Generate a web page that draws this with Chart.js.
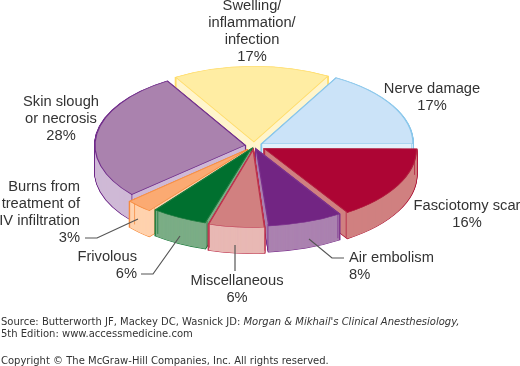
<!DOCTYPE html>
<html><head><meta charset="utf-8">
<style>html,body{margin:0;padding:0;background:#fff}canvas{display:block}</style>
<script src="https://cdn.jsdelivr.net/npm/chart.js@4/dist/chart.umd.js"></script>
</head><body><canvas id="c" width="520" height="366"></canvas>
<script>
const categories = ['Fasciotomy scar','Air embolism','Miscellaneous','Frivolous','Burns from treatment of IV infiltration','Skin slough or necrosis','Swelling/inflammation/infection','Nerve damage'];
const percents = [16,8,6,6,3,28,17,17];
const topColors = ['#AD0534','#722583','#D18080','#00702F','#FBAA72','#AA82AE','#FFEDA3','#CBE3F8'];
const sideColors = ['#D08080','#AB82B0','#E8B8B4','#7BAD86','#FFD2AE','#CFB9D6','#FFF5CC','#E3F1FB'];
const edgeColors = ['#B11C3D','#7A2E8C','#BC2F4B','#1A7A3C','#F58A3C','#6F2B8A','#FFDC6A','#86C5EA'];
const explode = [12,7,8,7,9,9,8,9];
const paintOrder = [6,7,5,0,4,3,1,2];
const labelBlocks = [
  {lines:['Swelling/','inflammation/','infection','17%'],x:252,y:6,align:'center'},
  {lines:['Nerve damage','17%'],x:432,y:89,align:'center'},
  {lines:['Fasciotomy scar','16%'],x:467,y:206,align:'center'},
  {lines:['Air embolism','8%'],x:349,y:258,align:'left'},
  {lines:['Miscellaneous','6%'],x:237,y:281,align:'center'},
  {lines:['Frivolous','6%'],x:137,y:257,align:'right'},
  {lines:['Burns from','treatment of','IV infiltration','3%'],x:80,y:187,align:'right'},
  {lines:['Skin slough','or necrosis','28%'],x:61,y:102,align:'center'}
];
const leaders = [
  [[85,238],[97,238],[138,219]],
  [[141,274],[153,274],[180,236]],
  [[235,245],[235,271]],
  [[309,239],[332,258],[344,258]]
];
const footer = [
  {parts:[['Source: Butterworth JF, Mackey DC, Wasnick JD: ','normal'],["Morgan & Mikhail's Clinical Anesthesiology,",'italic']],y:322},
  {parts:[['5th Edition: www.accessmedicine.com','normal']],y:334},
  {parts:[['Copyright © The McGraw-Hill Companies, Inc. All rights reserved.','normal']],y:361}
];
const squash = 0.5, depth = 26, cx = 254, cy = 146, pieRadius = 150;

function withOpts(arc, over, fn){
  const o = arc.options;
  arc.options = {offset:o.offset,spacing:o.spacing,circular:o.circular,borderAlign:o.borderAlign,
    borderRadius:o.borderRadius,borderJoinStyle:'miter',borderDash:o.borderDash,borderDashOffset:o.borderDashOffset,
    borderWidth:o.borderWidth,borderColor:o.borderColor,backgroundColor:o.backgroundColor, ...over};
  fn();
  arc.options = o;
}
const pie3d = {
  id:'pie3d',
  beforeDatasetsDraw(chart){
    const ctx = chart.ctx, arcs = chart.getDatasetMeta(0).data;
    ctx.save();
    ctx.transform(1,0,0,squash,cx-arcs[0].x,cy-squash*arcs[0].y);
    for(const i of paintOrder){
      const arc = arcs[i], d2 = depth/squash;
      withOpts(arc,{backgroundColor:'rgba(0,0,0,0)',borderColor:edgeColors[i],borderWidth:2},()=>{
        for(let d=d2;d>=0;d-=1){ctx.save();ctx.translate(0,d);arc.draw(ctx);ctx.restore();}
      });
      withOpts(arc,{backgroundColor:sideColors[i],borderWidth:0},()=>{
        for(let d=d2;d>=0;d-=1){ctx.save();ctx.translate(0,d);arc.draw(ctx);ctx.restore();}
      });
      const mid=(arc.startAngle+arc.endAngle)/2, off=explode[i];
      ctx.strokeStyle=edgeColors[i];ctx.lineWidth=1;
      for(const a of [arc.startAngle,arc.endAngle]){
        const px=arc.x+Math.cos(mid)*off+Math.cos(a)*arc.outerRadius,
              py=arc.y+Math.sin(mid)*off+Math.sin(a)*arc.outerRadius;
        ctx.beginPath();ctx.moveTo(px,py);ctx.lineTo(px,py+d2);ctx.stroke();
      }
      arc.draw(ctx);
    }
    ctx.restore();
    return false;
  },
  afterDraw(chart){
    const ctx = chart.ctx;
    ctx.save();
    ctx.strokeStyle='#555';ctx.lineWidth=1.2;
    for(const l of leaders){
      ctx.beginPath();l.forEach((p,k)=>k?ctx.lineTo(p[0],p[1]):ctx.moveTo(p[0],p[1]));ctx.stroke();
    }
    ctx.fillStyle='#333';ctx.textBaseline='middle';
    ctx.font='14.7px "Liberation Sans"';
    for(const b of labelBlocks){
      ctx.textAlign=b.align;
      b.lines.forEach((t,k)=>ctx.fillText(t,b.x,b.y+k*16.9));
    }
    ctx.textAlign='left';
    for(const f of footer){
      let x=1;
      for(const [t,st] of f.parts){
        ctx.font=st+' 10px "DejaVu Sans"';
        ctx.fillText(t,x,f.y);
        x+=ctx.measureText(t).width;
      }
    }
    ctx.restore();
  }
};
new Chart(document.getElementById('c'),{
  type:'pie',
  data:{labels:categories,datasets:[{data:percents,backgroundColor:topColors,borderColor:edgeColors,borderWidth:1.2,
    borderAlign:'center',borderJoinStyle:'miter',offset:explode.map(v=>v*4)}]},
  options:{responsive:false,animation:false,rotation:90,radius:pieRadius,
    plugins:{legend:{display:false},tooltip:{enabled:false}},events:[]},
  plugins:[pie3d]
});
</script></body></html>
